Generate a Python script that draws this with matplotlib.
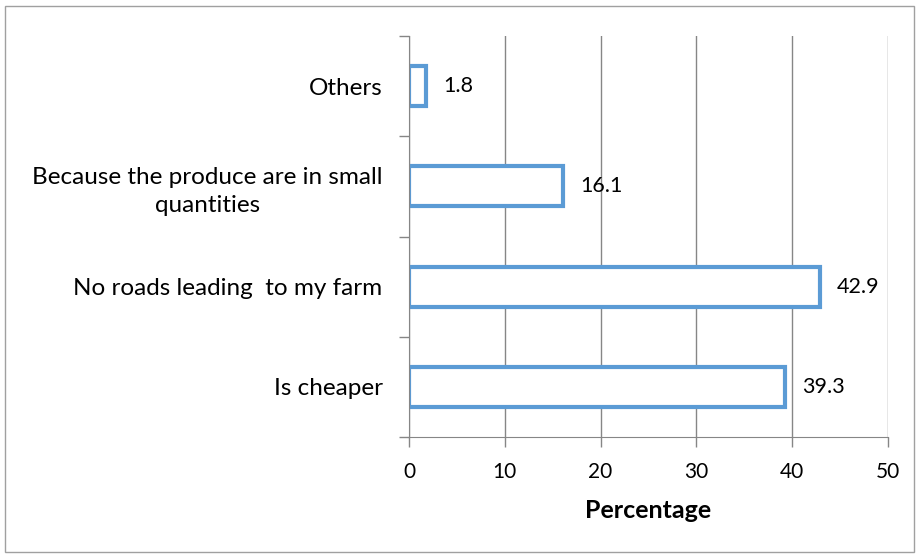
import matplotlib.pyplot as plt
from matplotlib.patches import Rectangle

categories = ['Is cheaper', 'No roads leading  to my farm',
              'Because the produce are in small\nquantities', 'Others']
values = [39.3, 42.9, 16.1, 1.8]
xticks = [0, 10, 20, 30, 40, 50]

plt.rcParams['font.family'] = ['Lato', 'DejaVu Sans']
blue = '#5B9BD5'
grey = '#868686'

fig = plt.figure(figsize=(9.19, 5.57), dpi=100)
ax = fig.add_axes([409/919, 1-437/557, (888-409)/919, (437-36)/557])

pos = list(range(len(categories)))
ax.barh(pos, values, height=0.4, color='white', edgecolor=blue, linewidth=3)
for p, v in zip(pos, values):
    ax.annotate(str(v), (v, p), xytext=(12, 0), textcoords='offset points',
                va='center', ha='left', fontsize=15.5)

ax.set_xlim(0, 50)
ax.set_ylim(-0.5, len(categories)-0.5)
ax.set_xticks(xticks)
ax.set_xticklabels([str(t) for t in xticks], fontsize=15)
ax.set_yticks(pos)
ax.set_yticklabels(categories, fontsize=17.5, multialignment='center',
                   linespacing=1.4)
ax.set_yticks([p - 0.5 for p in pos] + [len(pos) - 0.5], minor=True)
ax.tick_params(axis='y', which='major', length=0, pad=19)
ax.tick_params(axis='y', which='minor', length=7, color=grey, width=1)
ax.tick_params(axis='x', length=7, color=grey, width=1, pad=11)
ax.xaxis.grid(True, color=grey, linewidth=1)
ax.set_axisbelow(True)
for s in ['top', 'right']:
    ax.spines[s].set_visible(False)
for s in ['left', 'bottom']:
    ax.spines[s].set_color(grey)
ax.set_xlabel('Percentage', fontsize=18, fontweight='bold', labelpad=12)

fig.patches.append(Rectangle((5/919, 1-552/557), 909/919, 546/557,
                             transform=fig.transFigure, fill=False,
                             edgecolor='#a0a0a0', linewidth=1))

fig.savefig('out.png', dpi=100)
